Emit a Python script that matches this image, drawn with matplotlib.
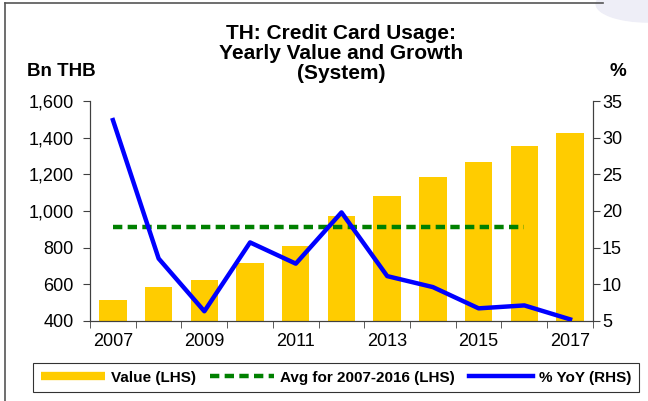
import matplotlib.pyplot as plt
from matplotlib.lines import Line2D
from matplotlib.patches import Ellipse

plt.rcParams['font.family'] = ['Liberation Sans', 'DejaVu Sans']

years = [2007, 2008, 2009, 2010, 2011, 2012, 2013, 2014, 2015, 2016, 2017]
value = [515, 584, 622, 718, 811, 973, 1082, 1187, 1267, 1356, 1427]
yoy = [32.4, 13.5, 6.3, 15.7, 12.8, 19.8, 11.1, 9.6, 6.7, 7.1, 5.2]
avg_val = sum(value[:10]) / 10

fig = plt.figure(figsize=(6.48, 4.01), dpi=100)

# faint slide decoration in the top-right corner
fig.add_artist(Ellipse((1.0, 0.99), 0.16, 0.09, transform=fig.transFigure,
                       color='#EEEEF7', zorder=0))

ax = fig.add_axes([0.139, 0.2, 0.776, 0.548])
ax2 = ax.twinx()

x = list(range(len(years)))
ax.bar(x, value, width=0.6, color='#FFCC00', zorder=2)
ax.plot(x[:10], [avg_val] * 10, color='#008000', lw=3.2, dashes=(2.1, 1.2), zorder=3)
ax2.plot(x, yoy, color='#0000FF', lw=3.2, zorder=4)

ax.set_xlim(-0.5, len(years) - 0.5)
ax.set_ylim(400, 1600)
ax2.set_ylim(5, 35)
ax.set_yticks(range(400, 1601, 200))
ax.set_yticklabels([f'{v:,}' for v in range(400, 1601, 200)])
ax2.set_yticks(range(5, 36, 5))

ax.set_xticks(x[::2])
ax.set_xticklabels([str(y) for y in years[::2]])
ax.set_xticks([i - 0.5 for i in range(len(years) + 1)], minor=True)
ax.tick_params(axis='x', which='major', length=0, pad=9, labelsize=13)
ax.tick_params(axis='x', which='minor', length=5, color='#404040')
ax.tick_params(axis='y', length=5, color='#404040', labelsize=13, pad=7)
ax2.tick_params(axis='y', length=5, color='#404040', labelsize=13, pad=1.5)

for a in (ax, ax2):
    a.spines['top'].set_visible(False)
    for s in ('left', 'right', 'bottom'):
        a.spines[s].set_color('#404040')

fig.text(0.527, 0.94, 'TH: Credit Card Usage:\nYearly Value and Growth\n(System)',
         ha='center', va='top', fontsize=15, fontweight='bold', linespacing=1.05)
fig.text(0.042, 0.8, 'Bn THB', fontsize=13.5, fontweight='bold', va='bottom')
fig.text(0.94, 0.8, '%', fontsize=13.5, fontweight='bold', va='bottom')

handles = [Line2D([], [], color='#FFCC00', lw=6, solid_capstyle='butt'),
           Line2D([], [], color='#008000', lw=3.2, dashes=(2.1, 1.2)),
           Line2D([], [], color='#0000FF', lw=3.2)]
labels = ['Value (LHS)', 'Avg for 2007-2016 (LHS)', '% YoY (RHS)']
leg = fig.legend(handles, labels, loc='center', bbox_to_anchor=(0.519, 0.0586), ncol=3,
                 frameon=True, fancybox=False, edgecolor='black', handlelength=4.2,
                 handletextpad=0.4, columnspacing=0.9, prop={'weight': 'bold', 'size': 11},
                 borderpad=0.5)
leg.get_frame().set_linewidth(0.8)

fig.add_artist(Line2D([0.008, 0.008], [0.0, 0.992], color='#555555', lw=1.2))
fig.add_artist(Line2D([0.008, 0.93], [0.992, 0.992], color='#555555', lw=1.2))

fig.savefig('out.png', dpi=100)
